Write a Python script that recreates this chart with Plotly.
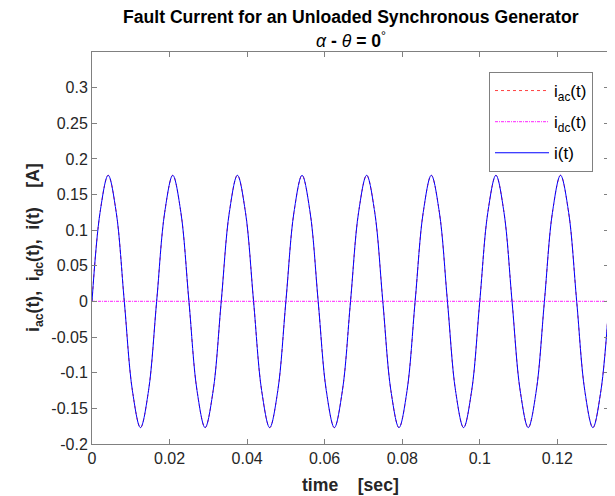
import plotly.graph_objects as go

# time samples [sec] (eighth-period spacing of the 60 Hz wave)
t_sec = [0, 0.00208, 0.00417, 0.00625, 0.00833, 0.01042, 0.0125, 0.01458,
         0.01667, 0.01875, 0.02083, 0.02292, 0.025, 0.02708, 0.02917, 0.03125,
         0.03333, 0.03542, 0.0375, 0.03958, 0.04167, 0.04375, 0.04583, 0.04792,
         0.05, 0.05208, 0.05417, 0.05625, 0.05833, 0.06042, 0.0625, 0.06458,
         0.06667, 0.06875, 0.07083, 0.07292, 0.075, 0.07708, 0.07917, 0.08125,
         0.08333, 0.08542, 0.0875, 0.08958, 0.09167, 0.09375, 0.09583, 0.09792,
         0.1, 0.10208, 0.10417, 0.10625, 0.10833, 0.11042, 0.1125, 0.11458,
         0.11667, 0.11875, 0.12083, 0.12292, 0.125, 0.12708, 0.12917, 0.13125,
         0.13333]

# total current i(t) [A]
i_total = [0, 0.125, 0.177, 0.125, 0, -0.125, -0.177, -0.125,
           0, 0.125, 0.177, 0.125, 0, -0.125, -0.177, -0.125,
           0, 0.125, 0.177, 0.125, 0, -0.125, -0.177, -0.125,
           0, 0.125, 0.177, 0.125, 0, -0.125, -0.177, -0.125,
           0, 0.125, 0.177, 0.125, 0, -0.125, -0.177, -0.125,
           0, 0.125, 0.177, 0.125, 0, -0.125, -0.177, -0.125,
           0, 0.125, 0.177, 0.125, 0, -0.125, -0.177, -0.125,
           0, 0.125, 0.177, 0.125, 0, -0.125, -0.177, -0.125,
           0]

# ac component (identical to i(t) since dc offset is zero)
i_ac = list(i_total)

# dc component
t_dc = [0, 0.13333]
i_dc = [0, 0]

x_ticks = [0, 0.02, 0.04, 0.06, 0.08, 0.1, 0.12]
x_tick_text = ["0", "0.02", "0.04", "0.06", "0.08", "0.1", "0.12"]
y_ticks = [-0.2, -0.15, -0.1, -0.05, 0, 0.05, 0.1, 0.15, 0.2, 0.25, 0.3]
y_tick_text = ["-0.2", "-0.15", "-0.1", "-0.05", "0", "0.05", "0.1", "0.15", "0.2", "0.25", "0.3"]

FONT = "Liberation Sans, Arial, Helvetica, sans-serif"

# the page body has an 8px margin, so figure coords = page coords - 8
PW, PH = 517, 392  # plot area size in px

fig = go.Figure()
fig.add_trace(go.Scatter(x=t_sec, y=i_ac, mode="lines", name="i<sub>ac</sub>(t)",
                         legendgroup="a",
                         line=dict(color="#ff4040", width=1, dash="3px,3px", shape="spline")))
fig.add_trace(go.Scatter(x=t_dc, y=i_dc, mode="lines", name="i<sub>dc</sub>(t)",
                         legendgroup="b",
                         line=dict(color="#ff4dff", width=1.2, dash="3px,1px,1px,1px")))
fig.add_trace(go.Scatter(x=t_sec, y=i_total, mode="lines", name="i(t)",
                         legendgroup="c",
                         line=dict(color="#0000ff", width=1, shape="spline")))

axis_common = dict(showgrid=False, zeroline=False, showline=True, linecolor="#808080",
                   linewidth=1, mirror="ticks", ticks="inside", ticklen=5,
                   tickcolor="#808080", tickfont=dict(family=FONT, size=16, color="#262626"))

fig.update_layout(
    width=607, height=488,
    margin=dict(l=84, r=6, t=44, b=52),
    paper_bgcolor="white", plot_bgcolor="white",
    font=dict(family=FONT),
    showlegend=True,
    legend=dict(x=(593 - 92) / PW, y=1 - (72 - 52) / PH, xanchor="right", yanchor="top",
                bgcolor="white", bordercolor="#808080", borderwidth=1,
                tracegroupgap=6, itemwidth=54,
                font=dict(family=FONT, size=17, color="#000000")),
    xaxis=dict(range=[0, 0.13333], tickvals=x_ticks, ticktext=x_tick_text, **axis_common),
    yaxis=dict(range=[-0.2, 0.35], tickvals=y_ticks, ticktext=y_tick_text, **axis_common),
    annotations=[
        dict(text="<b>Fault Current for an Unloaded Synchronous Generator</b>",
             xref="paper", yref="paper", x=0.5, y=1 + (52 - 17) / PH,
             xanchor="center", yanchor="middle", showarrow=False,
             font=dict(family=FONT, size=17.6, color="#000000")),
        dict(text="<i>α</i> <b>-</b> <i>θ</i> <b>= 0</b><sup>°</sup>",
             xref="paper", yref="paper", x=0.5, y=1 + (52 - 40) / PH,
             xanchor="center", yanchor="middle", showarrow=False,
             font=dict(family=FONT, size=17.6, color="#000000")),
        dict(text="<b>time\u00a0\u00a0\u00a0\u00a0[sec]</b>",
             xref="paper", yref="paper", x=0.5, y=-(485 - 444) / PH,
             xanchor="center", yanchor="middle", showarrow=False,
             font=dict(family=FONT, size=17.6, color="#262626")),
        dict(text="<b>i<sub>ac</sub>(t),\u00a0\u00a0i<sub>dc</sub>(t),\u00a0\u00a0i(t)\u00a0\u00a0\u00a0\u00a0[A]</b>",
             xref="paper", yref="paper", x=(34 - 92) / PW, y=0.5, textangle=-90,
             xanchor="center", yanchor="middle", showarrow=False,
             font=dict(family=FONT, size=17.6, color="#262626")),
    ],
)

fig.write_html("out.html")
